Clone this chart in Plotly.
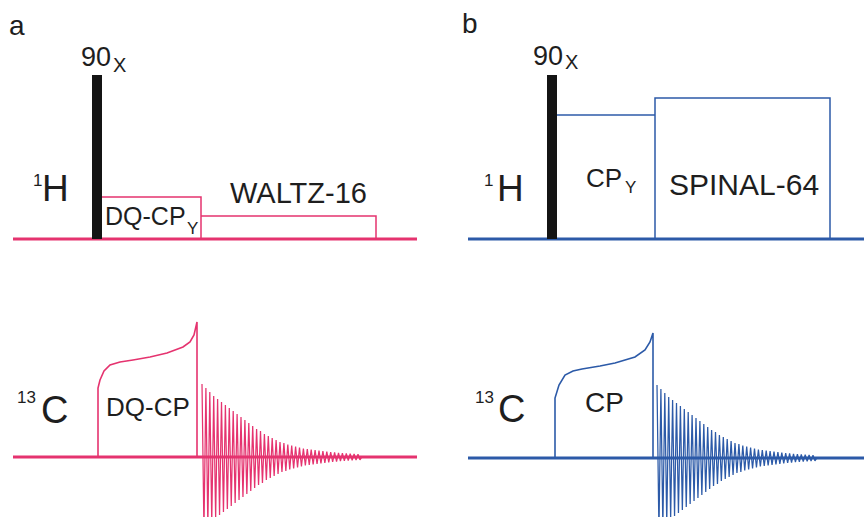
import plotly.graph_objects as go

# ---------------- data (diagram coordinates: x to the right, y downward) -------------
PINK = "#e5336f"
BLUE = "#2c5aa8"
BLACK = "#141414"

# Panel a : 1H channel
a_h_base_x = [13, 417]
a_h_base_y = 239
a_pulse_x = [92, 102]
a_pulse_top = 75
a_dqcp_x = [102, 201, 201]
a_dqcp_y = [197, 197, 239]
a_waltz_x = [201, 376, 376]
a_waltz_y = [216, 216, 239]

# Panel a : 13C channel
a_c_base_x = [13, 417]
a_c_base_y = 457
a_ramp_x = [98, 98, 100, 104, 110, 120, 133, 150, 167, 183, 190, 194, 197, 197]
a_ramp_y = [457, 388, 380, 371, 365, 362, 360, 357, 353, 347, 342, 335, 322, 457]
a_fid_start = 202

# Panel b : 1H channel
b_h_base_x = [468, 864]
b_h_base_y = 239
b_pulse_x = [547, 557]
b_pulse_top = 75
b_cp_x = [557, 655]
b_cp_y = [115, 115]
b_spinal_x = [655, 655, 830, 830]
b_spinal_y = [239, 98, 98, 239]

# Panel b : 13C channel
b_c_base_x = [468, 864]
b_c_base_y = 458
b_ramp_x = [555, 555, 559, 565, 573, 582, 600, 615, 635, 645, 650, 653, 653]
b_ramp_y = [458, 398, 385, 375, 371, 369, 366, 363, 357, 350, 342, 333, 458]
b_fid_start = 657

# FID peak amplitudes (one per oscillation)
fid_amp = [73, 69, 65, 61, 58, 55, 52, 49, 46, 43, 40, 37, 34, 31, 28, 26, 23, 21,
           19, 17, 15, 14, 12.5, 11.5, 10.5, 9.5, 8.5, 8, 7.5, 7, 6.5, 6, 5.5, 5,
           4.6, 4.2, 3.9, 3.6, 3.3, 3.0, 2.8]
fid_period = 3.9

# ---------------- build figure -------------
fig = go.Figure()


def line(xs, ys, color, width):
    fig.add_trace(go.Scatter(x=xs, y=ys, mode="lines",
                             line=dict(color=color, width=width),
                             hoverinfo="skip"))


def pulse(xr, top, base):
    fig.add_trace(go.Scatter(x=[xr[0], xr[1], xr[1], xr[0], xr[0]],
                             y=[base, base, top, top, base], mode="lines",
                             fill="toself", fillcolor=BLACK,
                             line=dict(color=BLACK, width=0), hoverinfo="skip"))


def fid(start, base, color):
    xs, ys = [], []
    for i, a in enumerate(fid_amp):
        x0 = start + i * fid_period
        xs += [x0, x0 + fid_period / 2]
        ys += [base - a, base + a]
    xs.append(start + len(fid_amp) * fid_period)
    ys.append(base)
    line(xs, ys, color, 1.25)


# panel a
line(a_h_base_x, [a_h_base_y] * 2, PINK, 3)
line(a_dqcp_x, a_dqcp_y, PINK, 1.5)
line(a_waltz_x, a_waltz_y, PINK, 1.5)
pulse(a_pulse_x, a_pulse_top, a_h_base_y)
line(a_c_base_x, [a_c_base_y] * 2, PINK, 3)
line(a_ramp_x, a_ramp_y, PINK, 1.6)
fid(a_fid_start, a_c_base_y, PINK)

# panel b
line(b_h_base_x, [b_h_base_y] * 2, BLUE, 3)
line(b_cp_x, b_cp_y, BLUE, 1.5)
line(b_spinal_x, b_spinal_y, BLUE, 1.5)
pulse(b_pulse_x, b_pulse_top, b_h_base_y)
line(b_c_base_x, [b_c_base_y] * 2, BLUE, 3)
line(b_ramp_x, b_ramp_y, BLUE, 1.6)
fid(b_fid_start, b_c_base_y, BLUE)

FONT = "Liberation Sans, Arial, sans-serif"
TXT = "#1e1e1e"
labels = [
    # text, x, y, size
    ("a", 17, 25, 28), ("b", 470, 23, 28),
    ("90", 96, 57, 27), ("X", 119, 65, 20),
    ("90", 548, 56, 27), ("X", 571, 62, 20),
    ("1", 37, 180, 17), ("H", 55, 188, 37),
    ("1", 488, 180, 17), ("H", 510, 188, 37),
    ("WALTZ-16", 298, 193, 29),
    ("DQ-CP", 145, 216, 25), ("Y", 192, 228, 17),
    ("CP", 604, 178, 26), ("Y", 630, 187, 17),
    ("SPINAL-64", 744, 184, 30),
    ("13", 26, 397, 17), ("C", 54, 410, 38),
    ("13", 484, 397, 17), ("C", 511, 409, 38),
    ("DQ-CP", 148, 407, 26),
    ("CP", 604, 402, 28),
]
for t, x, y, s in labels:
    fig.add_annotation(x=x, y=y, text=t, showarrow=False, xanchor="center",
                       yanchor="middle", font=dict(family=FONT, size=s, color=TXT))

fig.update_layout(
    width=864, height=517, margin=dict(l=0, r=0, t=0, b=0),
    paper_bgcolor="white", plot_bgcolor="white", showlegend=False,
    xaxis=dict(range=[0, 864], visible=False, fixedrange=True),
    yaxis=dict(range=[517, 0], visible=False, fixedrange=True),
)

fig.write_html("out.html", post_script="document.body.style.margin='0px';",
               config={"displayModeBar": False})
